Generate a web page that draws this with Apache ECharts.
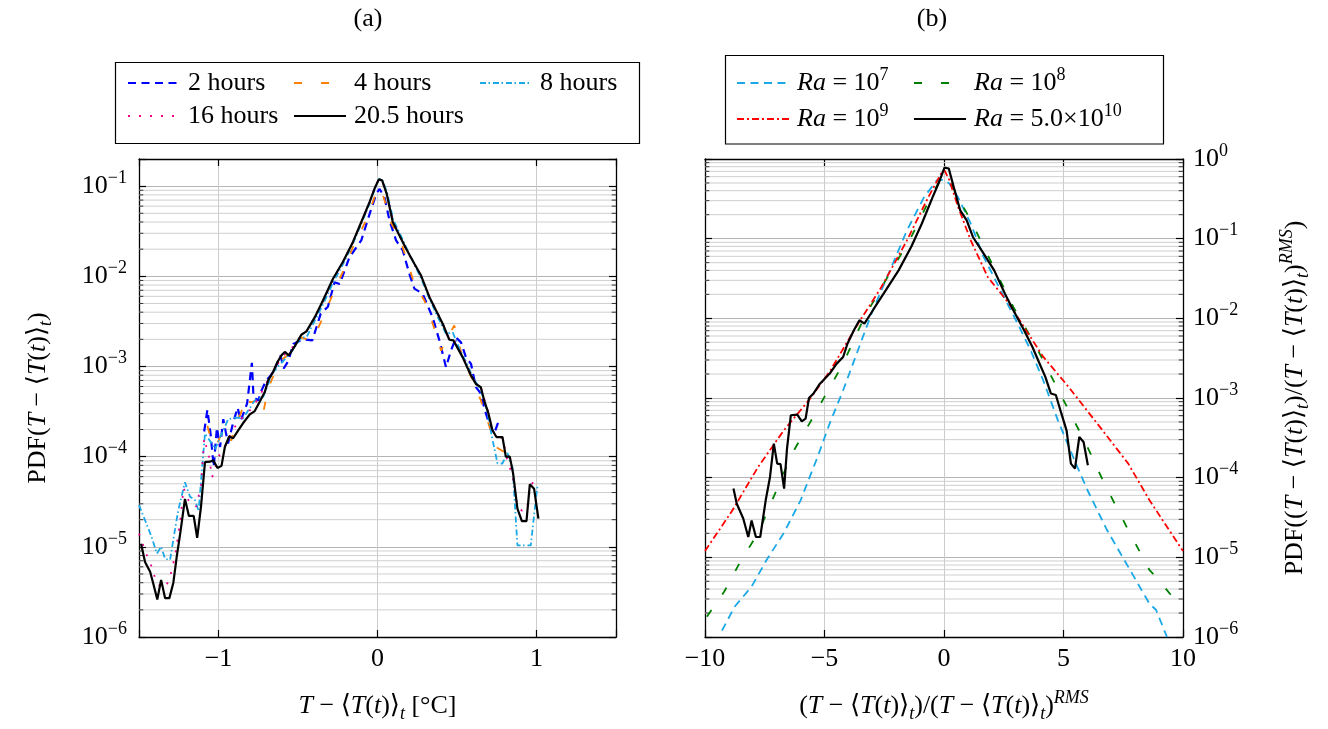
<!DOCTYPE html>
<html><head><meta charset="utf-8">
<script src="https://cdn.jsdelivr.net/npm/echarts@6/dist/echarts.min.js"></script>
<style>html,body{margin:0;padding:0;background:#fff}#c{width:1328px;height:729px}</style>
</head><body><div id="c"></div><script>
// ---------- DATA: panel (a)  [T - <T(t)>_t (°C), PDF] ----------
const pdf2h = [[-1.09,1.9e-4],[-1.07,3.3e-4],[-1.05,1.8e-4],[-1.03,7.7e-5],[-1.01,2.1e-4],[-0.99,1.28e-4],[-0.97,2.6e-4],[-0.94,1.4e-4],[-0.91,2.3e-4],[-0.88,3.5e-4],[-0.86,2.5e-4],[-0.82,3.9e-4],[-0.79,1.1e-3],[-0.78,4.6e-4],[-0.75,4.2e-4],[-0.73,5.4e-4],[-0.70,7.0e-4],[-0.67,8.0e-4],[-0.64,1.0e-3],[-0.61,1.33e-3],[-0.59,9.5e-4],[-0.56,1.16e-3],[-0.53,1.78e-3],[-0.47,2.0e-3],[-0.41,1.95e-3],[-0.357,3.85e-3],[-0.312,4.6e-3],[-0.27,8.6e-3],[-0.238,8.2e-3],[-0.176,1.63e-2],[-0.102,2.5e-2],[-0.05,4.9e-2],[-0.008,8.2e-2],[0.013,9.3e-2],[0.044,7.5e-2],[0.075,4.2e-2],[0.117,2.5e-2],[0.159,1.94e-2],[0.2,1.07e-2],[0.232,7.3e-3],[0.284,6.4e-3],[0.347,3.5e-3],[0.389,1.95e-3],[0.431,9.8e-4],[0.462,1.5e-3],[0.494,2.1e-3],[0.525,1.85e-3],[0.556,1.27e-3],[0.588,1.07e-3],[0.619,5.9e-4],[0.65,5.0e-4],[0.671,3.5e-4],[0.702,2.3e-4],[0.734,1.8e-4],[0.759,2.4e-4]];
const pdf4h = [[-1.07,2.2e-4],[-1.05,1.6e-4],[-1.02,1.3e-4],[-1.0,1.5e-4],[-0.97,2.0e-4],[-0.94,1.9e-4],[-0.92,1.5e-4],[-0.89,2.4e-4],[-0.86,3.0e-4],[-0.83,4.6e-4],[-0.80,4.0e-4],[-0.76,4.2e-4],[-0.72,3.0e-4],[-0.69,5.5e-4],[-0.66,7.5e-4],[-0.63,9e-4],[-0.6,1.2e-3],[-0.56,1.35e-3],[-0.52,1.6e-3],[-0.48,2.1e-3],[-0.44,2.0e-3],[-0.406,2.0e-3],[-0.343,3.5e-3],[-0.28,6.4e-3],[-0.22,1.1e-2],[-0.155,2.1e-2],[-0.071,4.2e-2],[-0.019,7.5e-2],[0.0,9.0e-2],[0.02,9.5e-2],[0.044,7.0e-2],[0.086,3.9e-2],[0.138,2.7e-2],[0.18,1.6e-2],[0.232,8.2e-3],[0.295,5.4e-3],[0.347,3.0e-3],[0.4,1.5e-3],[0.431,1.95e-3],[0.483,2.85e-3],[0.494,2.3e-3],[0.535,1.27e-3],[0.598,7.0e-4],[0.65,4.2e-4],[0.692,2.5e-4],[0.745,1.28e-4],[0.807,1.1e-4],[0.866,1.33e-4]];
const pdf8h = [[-1.5,2.9e-5],[-1.462,1.97e-5],[-1.42,1.28e-5],[-1.388,8.4e-6],[-1.361,1.0e-5],[-1.336,7.4e-6],[-1.305,7.1e-6],[-1.278,1.4e-5],[-1.253,2.54e-5],[-1.211,5.2e-5],[-1.179,3.6e-5],[-1.148,3.3e-5],[-1.125,2.5e-5],[-1.106,6.5e-5],[-1.085,1.8e-4],[-1.054,1.5e-4],[-1.022,1.2e-4],[-0.98,1.8e-4],[-0.939,2.6e-4],[-0.9,2.7e-4],[-0.843,2.7e-4],[-0.772,4.2e-4],[-0.719,4.6e-4],[-0.66,8.5e-4],[-0.604,1.1e-3],[-0.547,1.4e-3],[-0.48,2.1e-3],[-0.447,2.1e-3],[-0.395,3.2e-3],[-0.34,5.0e-3],[-0.28,8.5e-3],[-0.218,1.35e-2],[-0.155,2.3e-2],[-0.1,3.9e-2],[-0.05,6.4e-2],[-0.015,9.5e-2],[0.01,0.12],[0.03,0.118],[0.06,8.5e-2],[0.1,4.2e-2],[0.14,3.0e-2],[0.18,2.1e-2],[0.232,1.35e-2],[0.274,9.5e-3],[0.326,5.7e-3],[0.38,3.5e-3],[0.431,2.3e-3],[0.473,2.4e-3],[0.52,1.5e-3],[0.56,1.1e-3],[0.6,7.5e-4],[0.65,5.5e-4],[0.69,3.2e-4],[0.72,1.65e-4],[0.755,8.4e-5],[0.786,8.4e-5],[0.817,1.1e-4],[0.85,7.5e-5],[0.88,1.04e-5],[0.964,1.04e-5],[1.0,3.9e-5],[1.006,4.7e-5]];
const pdf16h = [[-1.5,1.4e-5],[-1.45,8e-6],[-1.42,6e-6],[-1.39,4e-6],[-1.36,3.6e-6],[-1.33,3.6e-6],[-1.3,5e-6],[-1.27,8.5e-6],[-1.24,2e-5],[-1.22,4.5e-5],[-1.18,3e-5],[-1.14,2.8e-5],[-1.11,4.8e-5],[-1.09,1.6e-4],[-1.06,1.0e-4],[-1.04,5.9e-5],[-1.0,1.0e-4],[-0.96,1.3e-4],[-0.91,2.0e-4],[-0.86,2.6e-4],[-0.8,3.3e-4],[-0.75,4.4e-4],[-0.7,6.5e-4],[-0.65,9.0e-4],[-0.6,1.3e-3],[-0.55,1.5e-3],[-0.5,2.0e-3],[-0.45,2.4e-3],[-0.4,3.4e-3],[-0.34,5.4e-3],[-0.28,9.2e-3],[-0.22,1.42e-2],[-0.155,2.38e-2],[-0.1,4.0e-2],[-0.05,6.6e-2],[-0.02,9.3e-2],[0.008,0.12],[0.03,0.115],[0.06,8.0e-2],[0.1,4.0e-2],[0.14,2.8e-2],[0.18,2.0e-2],[0.23,1.38e-2],[0.275,1.0e-2],[0.33,5.8e-3],[0.41,3.0e-3],[0.45,2.0e-3],[0.48,2.0e-3],[0.535,1.3e-3],[0.59,8e-4],[0.62,6.4e-4],[0.65,5.8e-4],[0.7,3.0e-4],[0.72,2.0e-4],[0.75,1.7e-4],[0.79,1.6e-4],[0.81,1.0e-4],[0.85,6e-5],[0.88,2.8e-5],[0.91,2.5e-5],[0.94,2.6e-5],[0.96,4.5e-5],[0.99,5.8e-5]];
const pdf20h = [[-1.487,1.08e-5],[-1.462,6.8e-6],[-1.43,5.3e-6],[-1.41,3.9e-6],[-1.385,2.6e-6],[-1.361,4.3e-6],[-1.336,2.7e-6],[-1.309,2.7e-6],[-1.284,4.0e-6],[-1.263,7.7e-6],[-1.238,1.52e-5],[-1.211,3.4e-5],[-1.186,2.2e-5],[-1.156,2.2e-5],[-1.134,1.26e-5],[-1.11,2.8e-5],[-1.085,8.7e-5],[-1.054,8.8e-5],[-1.033,9.1e-5],[-1.006,7.5e-5],[-0.981,7.9e-5],[-0.96,1.28e-4],[-0.933,1.68e-4],[-0.908,1.6e-4],[-0.876,1.96e-4],[-0.845,2.36e-4],[-0.803,2.94e-4],[-0.772,3.2e-4],[-0.74,4.1e-4],[-0.709,5.2e-4],[-0.688,7.0e-4],[-0.657,8.7e-4],[-0.629,1.12e-3],[-0.604,1.33e-3],[-0.583,1.45e-3],[-0.558,1.33e-3],[-0.521,1.67e-3],[-0.479,2.25e-3],[-0.447,2.45e-3],[-0.395,3.5e-3],[-0.343,5.4e-3],[-0.28,9.4e-3],[-0.218,1.44e-2],[-0.155,2.39e-2],[-0.102,4.0e-2],[-0.05,6.65e-2],[-0.019,9.35e-2],[0.008,0.119],[0.029,0.116],[0.058,8.2e-2],[0.096,4.0e-2],[0.138,2.84e-2],[0.18,2.02e-2],[0.232,1.38e-2],[0.274,1.02e-2],[0.326,5.9e-3],[0.41,2.98e-3],[0.452,1.98e-3],[0.477,1.95e-3],[0.535,1.27e-3],[0.588,7.96e-4],[0.619,6.4e-4],[0.65,5.9e-4],[0.671,4.2e-4],[0.698,3.0e-4],[0.723,1.96e-4],[0.748,1.65e-4],[0.786,1.65e-4],[0.807,1.0e-4],[0.832,1.0e-4],[0.853,6.5e-5],[0.88,2.65e-5],[0.908,1.93e-5],[0.937,1.93e-5],[0.958,4.93e-5],[0.985,4.4e-5],[1.012,2.05e-5]];

// ---------- DATA: panel (b)  [normalised fluctuation, PDF] ----------
const pdfRa7 = [[-9.29,1.2e-6],[-8.76,2.4e-6],[-8.05,4.3e-6],[-7.43,9.2e-6],[-6.71,2.0e-5],[-6.0,5.2e-5],[-5.29,1.82e-4],[-4.76,5.0e-4],[-4.22,1.25e-3],[-3.5,4.8e-3],[-2.98,1.26e-2],[-2.26,4.0e-2],[-1.55,0.127],[-0.84,0.33],[-0.3,0.54],[0.0,0.55],[0.23,0.49],[0.59,0.33],[1.12,0.154],[1.66,5.9e-2],[2.37,2.24e-2],[3.08,8.6e-3],[3.62,4.0e-3],[4.15,1.67e-3],[4.77,5.2e-4],[5.48,1.6e-4],[6.0,7.0e-5],[6.82,2.2e-5],[7.71,7.6e-6],[8.6,2.6e-6],[8.87,2.2e-6],[9.33,1.0e-6]];
const pdfRa8 = [[-9.92,1.8e-6],[-9.2,3.7e-6],[-8.49,9.2e-6],[-7.78,2.0e-5],[-7.07,6.3e-5],[-6.36,2.0e-4],[-5.47,5.8e-4],[-4.22,2.7e-3],[-3.33,1.04e-2],[-2.44,3.0e-2],[-1.37,0.105],[-0.48,0.37],[-0.1,0.58],[0.05,0.62],[0.3,0.5],[0.59,0.33],[1.12,0.17],[2.0,4.9e-2],[2.9,1.39e-2],[3.79,4.8e-3],[4.5,1.84e-3],[5.22,7.0e-4],[5.93,2.7e-4],[6.64,9.3e-5],[7.71,2.2e-5],[8.6,6.9e-6],[8.87,5.7e-6],[9.67,2.9e-6],[10,2.5e-6]];
const pdfRa9 = [[-10,1.2e-5],[-8.85,3.9e-5],[-7.78,1.36e-4],[-6.71,3.9e-4],[-5.65,9.4e-4],[-4.76,2.2e-3],[-3.68,7.8e-3],[-2.62,2.47e-2],[-1.55,9.5e-2],[-0.66,0.33],[-0.13,0.65],[0.02,0.72],[0.23,0.54],[0.59,0.25],[1.12,9.5e-2],[1.83,3.3e-2],[2.72,1.53e-2],[3.43,7.1e-3],[4.15,3.3e-3],[5.22,1.37e-3],[6.64,3.9e-4],[7.71,1.5e-4],[8.6,5.2e-5],[10,1.2e-5]];
const pdfRa5e10 = [[-8.81,7.3e-5],[-8.67,4.7e-5],[-8.4,3.07e-5],[-8.19,1.8e-5],[-8.05,2.9e-5],[-7.87,1.8e-5],[-7.69,1.8e-5],[-7.46,5.2e-5],[-7.28,1.02e-4],[-7.12,2.68e-4],[-6.98,1.5e-4],[-6.84,1.48e-4],[-6.69,7.3e-5],[-6.57,2.3e-4],[-6.41,6.07e-4],[-6.14,6.2e-4],[-5.95,5.1e-4],[-5.79,5.5e-4],[-5.65,1.0e-3],[-5.47,1.13e-3],[-5.2,1.5e-3],[-4.76,2.06e-3],[-4.49,2.7e-3],[-4.22,3.27e-3],[-4.04,4.8e-3],[-3.77,7.1e-3],[-3.54,9.45e-3],[-3.33,8.6e-3],[-3.06,1.15e-2],[-2.8,1.53e-2],[-2.44,2.24e-2],[-1.9,4.0e-2],[-1.37,7.9e-2],[-0.93,0.154],[-0.48,0.33],[-0.21,0.51],[0.02,0.78],[0.2,0.76],[0.41,0.44],[0.68,0.226],[0.95,0.17],[1.21,0.105],[1.66,6.5e-2],[2.1,4.0e-2],[2.55,2.04e-2],[2.9,1.26e-2],[3.35,7.1e-3],[3.7,4.37e-3],[3.97,2.83e-3],[4.24,1.84e-3],[4.47,1.14e-3],[4.68,1.09e-3],[4.91,6.4e-4],[5.13,3.9e-4],[5.31,1.5e-4],[5.48,1.3e-4],[5.66,3.24e-4],[5.84,2.8e-4],[6.02,1.43e-4]];

// ---------- axes / ticks ----------
const xRangeA = [-1.5, 1.5];
const xRangeB = [-10, 10];
const yRangeA = [1e-6, 0.2];
const yRangeB = [1e-6, 1];
const decades = [1e-6, 1e-5, 1e-4, 1e-3, 1e-2, 1e-1];
const minorMult = [2, 3, 4, 5, 6, 7, 8, 9];
const namesA = ['2 hours', '4 hours', '8 hours', '16 hours', '20.5 hours'];
const namesB = ['Ra = 10^7', 'Ra = 10^8', 'Ra = 10^9', 'Ra = 5.0x10^10'];

const FONT = "'Liberation Serif','DejaVu Serif',serif";
const FS = 26, SFS = 18;
const rich = {
  r:   {fontFamily: FONT, fontSize: FS, color: '#000', lineHeight: 34},
  i:   {fontFamily: FONT, fontSize: FS, fontStyle: 'italic', color: '#000', lineHeight: 34},
  sub: {fontFamily: FONT, fontSize: SFS, fontStyle: 'italic', color: '#000', lineHeight: 20, verticalAlign: 'bottom'},
  sup: {fontFamily: FONT, fontSize: SFS, fontStyle: 'italic', color: '#000', lineHeight: 20, verticalAlign: 'top'},
  supr:{fontFamily: FONT, fontSize: SFS, color: '#000', lineHeight: 20, verticalAlign: 'top'}
};
const legendText = {
  '2 hours': '{r|2 hours}', '4 hours': '{r|4 hours}', '8 hours': '{r|8 hours}',
  '16 hours': '{r|16 hours}', '20.5 hours': '{r|20.5 hours}',
  'Ra = 10^7': '{i|Ra}{r| = 10}{supr|7}', 'Ra = 10^8': '{i|Ra}{r| = 10}{supr|8}',
  'Ra = 10^9': '{i|Ra}{r| = 10}{supr|9}', 'Ra = 5.0x10^10': '{i|Ra}{r| = 5.0×10}{supr|10}'
};

function minorValues(maxV) {
  const out = [];
  decades.forEach(d => minorMult.forEach(m => { if (d * m < maxV * 0.999) out.push(d * m); }));
  return out;
}
// minor (2..9 per decade) horizontal grid lines, drawn through the axes as a broken line series
function minorGridData(xr, maxV) {
  const out = [];
  minorValues(maxV).forEach(v => out.push([xr[0], v], [xr[1], v], [xr[1], '-']));
  return out;
}
// short minor tick stubs on both vertical borders (stub = fraction of x-range)
function minorTickData(xr, maxV, frac) {
  const out = [], w = (xr[1] - xr[0]) * frac;
  minorValues(maxV).forEach(v => out.push([xr[0], v], [xr[0] + w, v], [xr[0] + w, '-'],
                                          [xr[1] - w, v], [xr[1], v], [xr[1], '-']));
  return out;
}
function logLabel(v) {
  const e = Math.log10(v), r = Math.round(e);
  if (Math.abs(e - r) > 1e-6) return '';
  return '{r|10}{supr|' + (r < 0 ? '\u2212' + (-r) : r) + '}';
}
function numLabel(v) {
  if (Math.abs(v - Math.round(v)) > 1e-9) return '';
  return v < 0 ? '\u2212' + Math.abs(v) : String(v);
}

const majorGrid = {show: true, lineStyle: {color: '#b4b4b4', width: 1.2}};
const vGrid = {show: true, lineStyle: {color: '#cccccc', width: 1}};
const axLine = {show: true, onZero: false, lineStyle: {color: '#000', width: 1.3}};
const tickIn = {show: true, inside: true, length: 7, lineStyle: {color: '#000', width: 1.2}};
const tickLabelStyle = {fontFamily: FONT, fontSize: FS, color: '#000'};

function xAxisMain(grid, range, name, interval) {
  const o = {type: 'value', gridIndex: grid, min: range[0], max: range[1], position: 'bottom',
    axisLine: axLine, axisTick: tickIn, splitLine: vGrid,
    axisLabel: Object.assign({margin: 9, formatter: numLabel}, tickLabelStyle),
    name: name, nameLocation: 'middle', nameGap: 52, nameTextStyle: {rich: rich}};
  if (interval) o.interval = interval; else { o.minInterval = 1; o.maxInterval = 1; o.splitNumber = 3; }
  return o;
}
function xAxisTop(grid, range, interval) {
  const o = {type: 'value', gridIndex: grid, min: range[0], max: range[1], position: 'top',
    axisLine: axLine, axisTick: tickIn, splitLine: {show: false}, axisLabel: {show: false}};
  if (interval) o.interval = interval; else { o.minInterval = 1; o.maxInterval = 1; o.splitNumber = 3; }
  return o;
}
function yAxisLog(grid, range, pos, labelled, name, gap) {
  return {type: 'log', logBase: 10, gridIndex: grid, min: range[0], max: range[1], position: pos,
    axisLine: axLine, axisTick: tickIn,
    splitLine: labelled ? majorGrid : {show: false},
    axisLabel: labelled ? {show: true, margin: pos === 'left' ? 12 : 10, formatter: logLabel, rich: rich} : {show: false},
    name: labelled ? name : '', nameLocation: 'middle', nameGap: gap || 0, nameTextStyle: {rich: rich}};
}

const nameXA = '{i|T}{r| \u2212 \u27e8}{i|T}{r|(}{i|t}{r|)\u27e9}{sub|t}{r| [°C]}';
const nameYA = '{r|PDF(}{i|T}{r| \u2212 \u27e8}{i|T}{r|(}{i|t}{r|)\u27e9}{sub|t}{r|)}';
const nameXB = '{r|(}{i|T}{r| \u2212 \u27e8}{i|T}{r|(}{i|t}{r|)\u27e9}{sub|t}{r|)/(}{i|T}{r| \u2212 \u27e8}{i|T}{r|(}{i|t}{r|)\u27e9}{sub|t}{r|)}{sup|RMS}';
const nameYB = '{r|PDF((}{i|T}{r| \u2212 \u27e8}{i|T}{r|(}{i|t}{r|)\u27e9}{sub|t}{r|)/(}{i|T}{r| \u2212 \u27e8}{i|T}{r|(}{i|t}{r|)\u27e9}{sub|t}{r|)}{sup|RMS}{r|)}';

function lineS(name, data, xi, yi, color, width, dash) {
  return {name: name, type: 'line', xAxisIndex: xi, yAxisIndex: yi, data: data,
    showSymbol: false, symbol: 'none', clip: true, z: 3, silent: true,
    lineStyle: {color: color, width: width, type: dash}, itemStyle: {color: color}};
}
function helperS(xi, yi, data, color, width, z) {
  return {type: 'line', xAxisIndex: xi, yAxisIndex: yi, data: data,
    symbol: 'none', showSymbol: false, connectNulls: false, z: z, silent: true,
    lineStyle: {color: color, width: width, type: 'solid'}};
}

const C = {blue: '#0000ff', orange: '#ff8000', cyan: '#1aa8e6', magenta: '#ec008c', black: '#000000',
           green: '#008000', red: '#ff0000'};
const D = {dashed: [8, 5.5], loose: [8, 19], dashdot: [6, 2.5, 1.5, 3], dotted: [2, 9], dashdotB: [7, 3, 2, 3]};

function legendItem(name, left, top) {
  return {data: [name], left: left, top: top, padding: 0, itemWidth: 52, itemHeight: 14, itemGap: 0,
    selectedMode: false, formatter: n => legendText[n],
    itemStyle: {opacity: 0, borderWidth: 0},
    textStyle: {rich: rich, padding: [0, 0, 0, 3]}};
}

const option = {
  animation: false,
  backgroundColor: '#fff',
  grid: [
    {left: 139, top: 159, width: 477, height: 478, containLabel: false},
    {left: 705, top: 159, width: 478, height: 478, containLabel: false}
  ],
  xAxis: [
    xAxisMain(0, xRangeA, nameXA),
    xAxisTop(0, xRangeA),
    xAxisMain(1, xRangeB, nameXB, 5),
    xAxisTop(1, xRangeB, 5)
  ],
  yAxis: [
    yAxisLog(0, yRangeA, 'left', true, nameYA, 84),
    yAxisLog(0, yRangeA, 'right', false),
    yAxisLog(1, yRangeB, 'right', true, nameYB, 95),
    yAxisLog(1, yRangeB, 'left', false)
  ],
  legend: [
    legendItem(namesA[0], 127, 70), legendItem(namesA[1], 293, 70), legendItem(namesA[2], 479, 70),
    legendItem(namesA[3], 127, 103), legendItem(namesA[4], 293, 103),
    legendItem(namesB[0], 736, 66), legendItem(namesB[1], 913, 66),
    legendItem(namesB[2], 736, 102), legendItem(namesB[3], 913, 102)
  ],
  graphic: [
    {type: 'rect', shape: {x: 115.5, y: 62.5, width: 524, height: 81}, style: {fill: 'none', stroke: '#000', lineWidth: 1.2}, silent: true},
    {type: 'rect', shape: {x: 725.5, y: 55.5, width: 438, height: 88.5}, style: {fill: 'none', stroke: '#000', lineWidth: 1.2}, silent: true},
    {type: 'text', x: 368, y: 19, style: {text: '(a)', font: '26px ' + FONT, fill: '#000', textAlign: 'center', textVerticalAlign: 'middle'}, silent: true},
    {type: 'text', x: 932, y: 19, style: {text: '(b)', font: '26px ' + FONT, fill: '#000', textAlign: 'center', textVerticalAlign: 'middle'}, silent: true}
  ],
  series: [
    helperS(0, 0, minorGridData(xRangeA, yRangeA[1]), '#cfcfcf', 1, 1),
    helperS(2, 2, minorGridData(xRangeB, yRangeB[1]), '#cfcfcf', 1, 1),
    helperS(0, 0, minorTickData(xRangeA, yRangeA[1], 0.009), '#333333', 1, 2),
    helperS(2, 2, minorTickData(xRangeB, yRangeB[1], 0.009), '#333333', 1, 2),
    lineS(namesA[0], pdf2h, 0, 0, C.blue, 2.2, D.dashed),
    lineS(namesA[1], pdf4h, 0, 0, C.orange, 1.8, D.loose),
    lineS(namesA[2], pdf8h, 0, 0, C.cyan, 1.8, D.dashdot),
    lineS(namesA[3], pdf16h, 0, 0, C.magenta, 1.8, D.dotted),
    lineS(namesA[4], pdf20h, 0, 0, C.black, 2.2, 'solid'),
    lineS(namesB[0], pdfRa7, 2, 2, C.cyan, 1.8, D.dashed),
    lineS(namesB[1], pdfRa8, 2, 2, C.green, 1.8, D.loose),
    lineS(namesB[2], pdfRa9, 2, 2, C.red, 1.8, D.dashdotB),
    lineS(namesB[3], pdfRa5e10, 2, 2, C.black, 2.2, 'solid')
  ]
};
const chart = echarts.init(document.getElementById('c'));
chart.setOption(option);
</script></body></html>
